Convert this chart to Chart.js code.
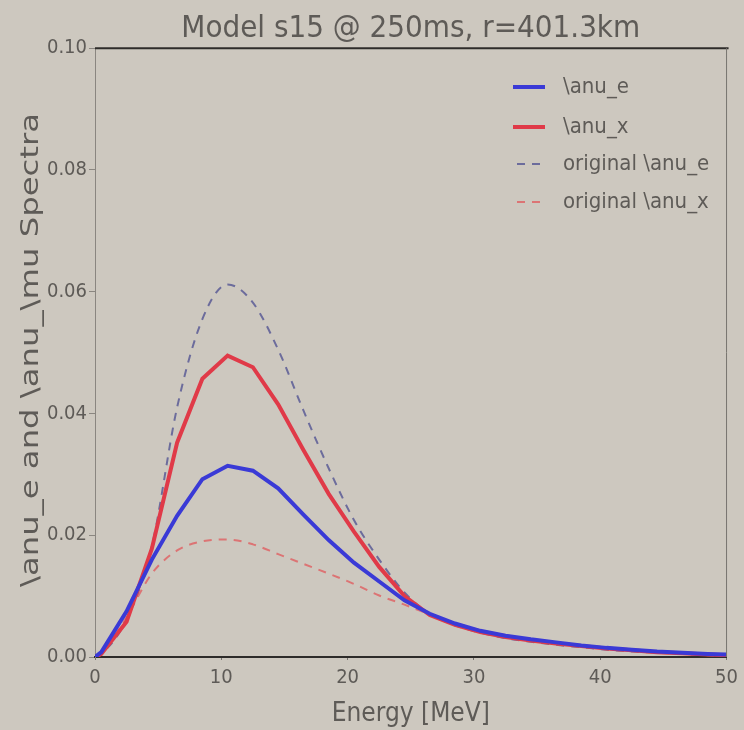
<!DOCTYPE html>
<html>
<head>
<meta charset="utf-8">
<script src="https://cdn.jsdelivr.net/npm/chart.js@4"></script>
<style>
  html, body { margin: 0; padding: 0; background: #cdc8bf; }
  #wrap { width: 744px; height: 730px; }
</style>
</head>
<body>
<div id="wrap"><canvas id="spec" width="744" height="730"></canvas></div>
<script>
// energy grid [MeV]
const energies = [0, 0.5, 2.5, 4.5, 6.5, 8.5, 10.5, 12.5, 14.5, 16.5, 18.5, 20.5, 22.5, 24.5,
  26.5, 28.5, 30.5, 32.5, 34.5, 36.5, 38.5, 40.5, 42.5, 44.5, 46.5, 48.5, 50];

// spectra
const anuE = [0, 0.0008, 0.0075, 0.0160, 0.0232, 0.0292, 0.0314, 0.0306, 0.0277, 0.0234, 0.0192, 0.0155, 0.0124, 0.0093,
  0.0071, 0.0055, 0.0043, 0.0035, 0.0029, 0.0024, 0.0019, 0.0015, 0.0012, 0.0009, 0.0007, 0.0005, 0.0004];
const anuX = [0, 0.0005, 0.0058, 0.0178, 0.0352, 0.0457, 0.0495, 0.0476, 0.0415, 0.0340, 0.0268, 0.0206, 0.0148, 0.0100,
  0.0069, 0.0053, 0.0041, 0.0033, 0.0027, 0.0022, 0.0018, 0.0014, 0.0011, 0.0008, 0.0006, 0.0004, 0.0003];
const origE = [0, 0.0005, 0.0062, 0.0182, 0.0410, 0.0555, 0.0612, 0.0582, 0.0505, 0.0405, 0.0310, 0.0225, 0.0160, 0.0106,
  0.0071, 0.0052, 0.0040, 0.0031, 0.0025, 0.0020, 0.0016, 0.0012, 0.0009, 0.0007, 0.0005, 0.0003, 0.0002];
const origX = [0, 0.0005, 0.0066, 0.0137, 0.0175, 0.0190, 0.0193, 0.0185, 0.0169, 0.0153, 0.0137, 0.0120, 0.0101, 0.0086,
  0.0070, 0.0056, 0.0044, 0.0036, 0.0029, 0.0024, 0.0019, 0.0015, 0.0012, 0.0009, 0.0007, 0.0005, 0.0004];

const xTicks = [0, 10, 20, 30, 40, 50];
const yTicks = [0, 0.02, 0.04, 0.06, 0.08, 0.10];
const yTitle = '\\anu_e and \\anu_\\mu Spectra';

const NARROW = "'DejaVu Sans Condensed', 'Liberation Sans Narrow', 'DejaVu Sans', sans-serif";
const TXT = '#5e5b57';

function pts(ys){ return energies.map((e,i)=>({x:e, y:ys[i]})); }

// legend drawn inside the plot, top right
const innerLegend = {
  id: 'innerLegend',
  afterDatasetsDraw(chart){
    const ctx = chart.ctx;
    const rows = [87, 127, 164, 202];
    ctx.save();
    chart.data.datasets.forEach((ds,i)=>{
      const y = rows[i];
      ctx.strokeStyle = ds.borderColor;
      ctx.lineWidth = ds.borderWidth;
      ctx.setLineDash(ds.borderDash || []);
      ctx.beginPath();
      if(ds.borderDash){ ctx.moveTo(517,y); ctx.lineTo(541,y); }
      else { ctx.moveTo(513,y); ctx.lineTo(545,y); }
      ctx.stroke();
      ctx.setLineDash([]);
      ctx.fillStyle = TXT;
      ctx.font = '22px ' + NARROW;
      ctx.textBaseline = 'middle';
      ctx.fillText(ds.label, 563, y);
    });
    ctx.restore();
  }
};

// top/right frame and the (stretched) y axis title
const frame = {
  id: 'frame',
  afterDraw(chart){
    const {left,right,top,bottom} = chart.chartArea;
    const ctx = chart.ctx;
    ctx.save();
    ctx.strokeStyle = '#2e2c2a'; ctx.lineWidth = 2;
    ctx.beginPath(); ctx.moveTo(left,top); ctx.lineTo(right+2,top); ctx.stroke();
    ctx.strokeStyle = '#77746f'; ctx.lineWidth = 1;
    ctx.beginPath(); ctx.moveTo(right,top); ctx.lineTo(right,bottom); ctx.stroke();

    ctx.translate(31, 350);
    ctx.rotate(-Math.PI/2);
    ctx.font = '25px ' + NARROW;
    const w = ctx.measureText(yTitle).width;
    ctx.scale(474 / w, 1);
    ctx.fillStyle = TXT;
    ctx.textAlign = 'center';
    ctx.textBaseline = 'middle';
    ctx.fillText(yTitle, 0, 0);
    ctx.restore();
  }
};

new Chart(document.getElementById('spec'), {
  type: 'line',
  data: {
    datasets: [
      { label: '\\anu_e', data: pts(anuE), borderColor: '#3a3ad6', borderWidth: 4 },
      { label: '\\anu_x', data: pts(anuX), borderColor: '#e03a48', borderWidth: 4 },
      { label: 'original \\anu_e', data: pts(origE), borderColor: '#6c6c9c', borderWidth: 2, borderDash: [8,7], cubicInterpolationMode: 'monotone' },
      { label: 'original \\anu_x', data: pts(origX), borderColor: '#dc7474', borderWidth: 2, borderDash: [8,7], cubicInterpolationMode: 'monotone' }
    ]
  },
  options: {
    responsive: false,
    animation: false,
    layout: { padding: { left: 0, right: 16, top: 0, bottom: 0 } },
    elements: { point: { radius: 0 }, line: { tension: 0 } },
    plugins: {
      legend: { display: false },
      tooltip: { enabled: false },
      title: {
        display: true,
        fullSize: false,
        text: 'Model s15 @ 250ms, r=401.3km',
        color: TXT,
        font: { family: NARROW, size: 31, weight: 'normal' },
        padding: { top: 10, bottom: 1 }
      }
    },
    scales: {
      x: {
        type: 'linear', min: 0, max: 50,
        afterBuildTicks(s){ s.ticks = xTicks.map(v=>({value:v})); },
        afterFit(s){ s.height = 73; },
        grid: { drawOnChartArea: false, tickLength: 3, color: '#77746f' },
        border: { color: '#2e2c2a', width: 2 },
        ticks: { color: TXT, font: { family: NARROW, size: 20 }, padding: 6, maxRotation: 0 },
        title: { display: true, text: 'Energy [MeV]', color: TXT, font: { family: NARROW, size: 26 }, padding: { top: 0, bottom: 0 } }
      },
      y: {
        min: 0, max: 0.10,
        afterBuildTicks(s){ s.ticks = yTicks.map(v=>({value:v})); },
        afterFit(s){ s.width = 95; },
        grid: { drawOnChartArea: false, tickLength: 6, color: '#8a8680' },
        border: { color: '#8a8680', width: 1 },
        ticks: { color: TXT, font: { family: NARROW, size: 20 }, padding: 2, callback: v => v.toFixed(2) },
        title: { display: false }
      }
    }
  },
  plugins: [innerLegend, frame]
});
</script>
</body>
</html>
